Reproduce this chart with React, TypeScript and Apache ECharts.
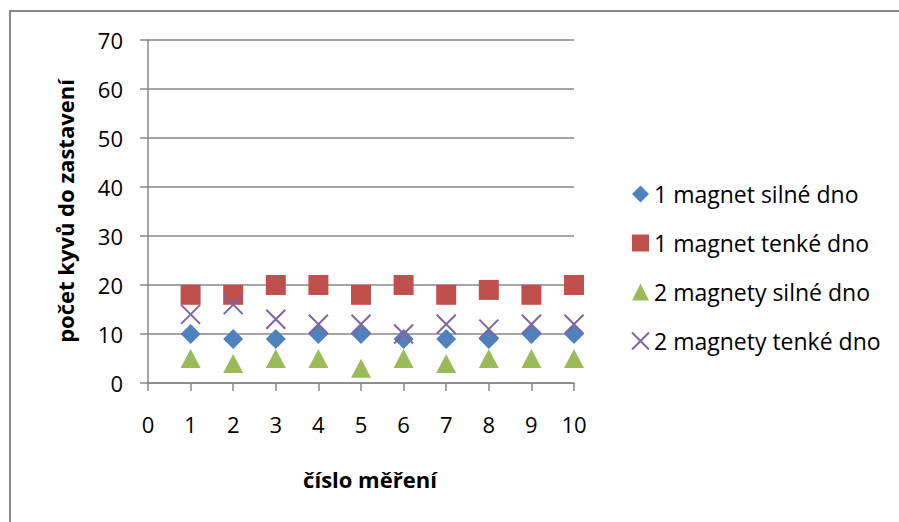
import React, { useEffect, useRef } from "react";
import * as echarts from "echarts";

// measurement numbers 1..10
const measurements = [1, 2, 3, 4, 5, 6, 7, 8, 9, 10];

const seriesNames = [
  "1 magnet silné dno",
  "1 magnet tenké dno",
  "2 magnety silné dno",
  "2 magnety tenké dno",
];

const oneMagnetThick = [10, 9, 9, 10, 10, 9, 9, 9, 10, 10];
const oneMagnetThin = [18, 18, 20, 20, 18, 20, 18, 19, 18, 20];
const twoMagnetsThick = [5, 4, 5, 5, 3, 5, 4, 5, 5, 5];
const twoMagnetsThin = [14, 16, 13, 12, 12, 10, 12, 11, 12, 12];

const xTitle = "číslo měření";
const yTitle = "počet kyvů do zastavení";

const FONT = "'Open Sans', 'Noto Sans', sans-serif";
const FS = 22;
const GRID_GRAY = "#878787";
const CROSS = "path://M0,0L20,20M20,0L0,20";

const pairs = (ys: number[]) => measurements.map((x, i) => [x, ys[i]]);

export default function App() {
  const ref = useRef<HTMLDivElement>(null);

  useEffect(() => {
    if (!ref.current) return;
    const chart = echarts.init(ref.current, undefined, { renderer: "svg" });

    const axisCommon = {
      type: "value" as const,
      axisLine: { show: true, lineStyle: { color: GRID_GRAY, width: 1.5 } },
      axisTick: { show: true, length: 8, lineStyle: { color: GRID_GRAY, width: 1.5 } },
      axisLabel: { color: "#000", fontSize: FS, fontFamily: FONT },
      minorTick: { show: false },
    };

    chart.setOption({
      animation: false,
      backgroundColor: "#fff",
      grid: { left: 148, top: 40, right: 325, bottom: 139, containLabel: false },
      xAxis: {
        ...axisCommon,
        min: 0,
        max: 10,
        interval: 1,
        splitLine: { show: false },
        axisLabel: { ...axisCommon.axisLabel, margin: 30 },
      },
      yAxis: {
        ...axisCommon,
        min: 0,
        max: 70,
        interval: 10,
        splitLine: { show: true, lineStyle: { color: GRID_GRAY, width: 1.5 } },
        axisLabel: { ...axisCommon.axisLabel, margin: 25 },
      },
      legend: {
        orient: "vertical",
        left: 629.5,
        top: 182.5,
        padding: 0,
        itemGap: 26,
        itemWidth: 17,
        itemHeight: 17,
        textStyle: { color: "#000", fontSize: 23, fontFamily: FONT },
        data: seriesNames,
      },
      graphic: [
        {
          type: "rect",
          shape: { x: 10, y: 11, width: 1000, height: 1000 },
          style: { fill: "none", stroke: GRID_GRAY, lineWidth: 2 },
          silent: true,
        },
        {
          type: "text",
          x: 65,
          y: 211,
          rotation: Math.PI / 2,
          style: {
            text: yTitle,
            font: `bold ${FS}px ${FONT}`,
            fill: "#000",
            align: "center",
            verticalAlign: "middle",
          },
        },
        {
          type: "text",
          x: 370,
          y: 479,
          style: {
            text: xTitle,
            font: `bold ${FS}px ${FONT}`,
            fill: "#000",
            align: "center",
            verticalAlign: "middle",
          },
        },
      ],
      series: [
        {
          name: seriesNames[0],
          type: "scatter",
          symbol: "diamond",
          symbolSize: 20,
          itemStyle: { color: "#4F81BD", opacity: 1 },
          data: pairs(oneMagnetThick),
          z: 3,
        },
        {
          name: seriesNames[1],
          type: "scatter",
          symbol: "rect",
          symbolSize: 20,
          itemStyle: { color: "#C0504D", opacity: 1 },
          data: pairs(oneMagnetThin),
          z: 2,
        },
        {
          name: seriesNames[2],
          type: "scatter",
          symbol: "triangle",
          symbolSize: [20, 19],
          itemStyle: { color: "#9BBB59", opacity: 1 },
          data: pairs(twoMagnetsThick),
          z: 4,
        },
        {
          name: seriesNames[3],
          type: "scatter",
          symbol: CROSS,
          symbolSize: 19,
          itemStyle: { color: "none", borderColor: "#8064A2", borderWidth: 2, opacity: 1 },
          data: pairs(twoMagnetsThin),
          z: 5,
        },
      ],
    });

    return () => chart.dispose();
  }, []);

  return (
    <div
      ref={ref}
      style={{ position: "fixed", left: 0, top: 0, width: 899, height: 522, background: "#fff" }}
    />
  );
}
